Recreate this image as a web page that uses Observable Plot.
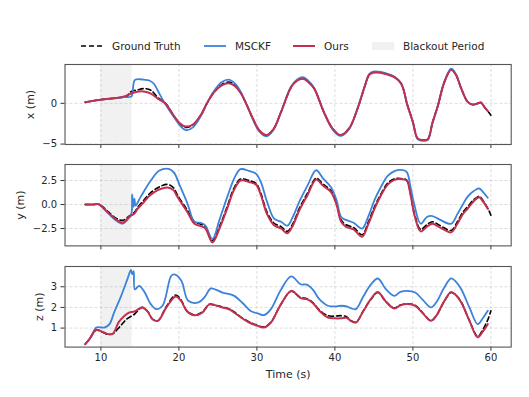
<!DOCTYPE html>
<html><head><meta charset="utf-8">
<script src="https://cdn.jsdelivr.net/npm/d3@7"></script>
<script src="https://cdn.jsdelivr.net/npm/@observablehq/plot@0.6"></script>
<style>
body{margin:0;background:#fff;font-family:"DejaVu Sans",sans-serif;}
#wrap{position:relative;width:529px;height:397px;overflow:hidden;background:#fff;}
.panel{position:absolute;left:0;}
</style></head><body><div id="wrap"></div>
<script>
// ---------- data ----------
const xTicks = [10, 20, 30, 40, 50, 60];
const blackout = [{start: 10, end: 14}];
const seriesNames = ["Ground Truth", "MSCKF", "Ours", "Blackout Period"];

// panel 1: x (m)
const xGT_t = [8,9,10,11,12,12.8,13.3,13.8,14.7,15.5,16.4,17.3,18.3,19.4,20.2,20.9,21.8,22.8,23.6,24.5,25.5,26.4,27.2,27.9,28.7,29.5,30.3,31.2,32.1,33.1,34.4,35.2,35.9,36.6,37.35,38.6,39.7,40.7,41.8,42.9,43.8,44.4,44.9,45.8,46.5,47.6,48.5,49.3,50,50.6,51.2,51.9,52.5,53.2,54,54.9,55.5,56.2,57,57.6,58.2,58.7,59.2,59.6,60];
const xGT_v = [0.12,0.3,0.45,0.55,0.65,0.72,0.8,1.4,1.65,1.8,1.6,0.7,0,-1.6,-2.55,-2.95,-2.65,-1.45,0,1.4,2.3,2.6,2.2,1.35,-0.2,-1.9,-3.3,-3.9,-3.2,-1.05,2.0,2.85,3.05,2.65,1.8,-1.1,-3.1,-3.9,-3.1,-0.65,2.0,3.5,3.8,3.8,3.65,3.25,2.4,-0.25,-2.3,-4.3,-4.5,-4.4,-2.4,-0.3,2.5,4.15,3.55,1.8,0.2,-0.15,-0.05,0.1,-0.5,-0.95,-1.46];
const xOurs_t = [8,9,10,11,12,13,13.8,14.5,15.5,16.4,17.3,18.3,19.4,20.2,20.9,21.8,22.8,23.6,24.5,25.5,26.4,27.2,27.9,28.7,29.5,30.3,31.2,32.1,33.1,34.4,35.2,35.9,36.6,37.35,38.6,39.7,40.7,41.8,42.9,43.8,44.4,44.9,45.8,46.5,47.6,48.5,49.3,50,50.6,51.2,51.9,52.5,53.2,54,54.9,55.5,56.2,57,57.6,58.2,58.7,59.2,59.6];
const xOurs_v = [0.12,0.3,0.45,0.55,0.65,0.85,1.18,1.4,1.45,1.2,0.57,-0.05,-1.6,-2.5,-2.85,-2.6,-1.45,0,1.35,2.2,2.45,2.1,1.3,-0.2,-1.9,-3.3,-3.9,-3.2,-1.06,2.0,2.8,3.0,2.6,1.8,-1.1,-3.1,-3.9,-3.1,-0.65,2.0,3.5,3.75,3.75,3.6,3.2,2.4,-0.25,-2.3,-4.3,-4.5,-4.4,-2.4,-0.3,2.5,4.1,3.5,1.8,0.2,-0.15,-0.05,0.1,-0.5,-0.95];
const xMS_t = [8,9,10,11,12,13,13.85,14.0,14.3,14.6,15.5,16.2,16.8,17.4,18.1,19.4,20.2,20.9,21.8,22.8,23.6,24.5,25.5,26.4,27.2,27.9,28.7,29.5,30.3,31.2,32.1,33.1,34.4,35.2,35.9,36.6,37.35,38.6,39.7,40.7,41.8,42.9,43.8,44.4,44.9,45.8,46.5,47.6,48.5,49.3,50,50.6,51.2,51.9,52.5,53.2,54,54.9,55.5,56.2,57,57.6,58.2,58.7,59.2,59.6];
const xMS_v = [0.12,0.3,0.45,0.55,0.65,0.75,0.8,1.0,2.8,2.95,2.9,2.8,2.4,1.38,0.16,-1.75,-2.8,-3.3,-2.95,-1.6,0,1.5,2.6,2.9,2.4,1.45,-0.2,-2.0,-3.45,-4.05,-3.3,-1.05,2.1,2.95,3.2,2.75,1.85,-1.15,-3.2,-4.0,-3.2,-0.65,2.05,3.6,3.9,3.85,3.7,3.3,2.45,-0.25,-2.35,-4.4,-4.6,-4.5,-2.45,-0.3,2.6,4.25,3.6,1.85,0.2,-0.15,-0.05,0.1,-0.5,-0.95];
const xYTicks = [-5, 0];

// panel 2: y (m)
const yOurs_t = [8,9,9.7,10.1,11,12,12.8,13.6,14.3,14.7,15.4,16.2,17.3,18.5,19.3,19.8,21.1,22,22.8,23.4,24.3,25.2,26.2,27,27.9,29,29.9,30.5,31.3,32.2,33.1,33.9,34.6,35.5,36.5,37.6,38.5,39.5,40.2,40.8,41.4,42.4,43.5,44.3,45.1,45.9,46.8,47.7,48.5,49.2,49.7,50.2,51,51.8,52.5,53.5,54.9,55.7,56.4,57,57.8,58.5,59,59.6];
const yOurs_v = [0,0,0.03,-0.2,-0.9,-1.6,-1.9,-1.3,-0.94,-0.45,0.15,0.9,1.5,1.78,1.5,0.8,-0.8,-2.0,-2.25,-2.5,-3.95,-2.5,-0.4,1.4,2.5,2.35,2.05,1.0,-1.0,-2.15,-2.5,-3.0,-2.2,-0.5,1.0,2.6,1.95,1.3,0.0,-1.8,-2.3,-2.6,-3.35,-2.0,-0.4,0.95,2.1,2.6,2.65,2.5,1.0,-1.1,-2.8,-2.3,-2.0,-2.4,-2.9,-2.0,-1.0,-0.45,0.35,0.75,0.3,-0.45];
const yGT_t = [8,9,9.7,10.1,11,12,12.8,13.6,14.3,14.7,15.4,16.2,17.3,18.5,19.3,19.8,21.1,22,22.8,23.4,24.3,25.2,26.2,27,27.9,29,29.9,30.5,31.3,32.2,33.1,33.9,34.6,35.5,36.5,37.6,38.5,39.5,40.2,40.8,41.4,42.4,43.5,44.3,45.1,45.9,46.8,47.7,48.5,49.2,49.7,50.2,51,51.8,52.5,53.5,54.9,55.7,56.4,57,57.8,58.5,59,59.6,60];
const yGT_v = [0,0,0.03,-0.15,-0.8,-1.45,-1.65,-1.2,-0.8,-0.3,0.35,1.1,1.75,2.1,1.75,1.0,-0.6,-1.8,-2.05,-2.3,-3.75,-2.3,-0.2,1.6,2.65,2.5,2.2,1.2,-0.8,-1.95,-2.3,-2.8,-2.0,-0.3,1.2,2.75,2.1,1.45,0.2,-1.6,-2.1,-2.4,-3.15,-1.8,-0.2,1.1,2.25,2.7,2.7,2.55,1.1,-0.95,-2.6,-2.1,-1.8,-2.2,-2.7,-1.8,-0.8,-0.25,0.5,0.85,0.4,-0.4,-1.1];
const yMS_t = [8,9,9.7,10.1,11,12,12.8,13.5,13.9,14.0,14.1,14.2,14.3,14.45,15.1,16.4,17.5,18.8,19.4,20.1,21.1,22,22.8,23.4,24.3,25.2,26.2,27.2,27.9,29,29.9,30.5,31.3,32.2,33.1,33.9,34.6,35.5,36.5,37.6,38.5,39.5,40.2,40.8,41.4,42.4,43.5,44.3,45.1,45.9,46.8,47.7,48.5,49.2,49.7,50.2,51,51.8,52.5,53.5,54.9,55.7,56.4,57,57.8,58.5,59,59.6];
const yMS_v = [0,0,0.03,-0.2,-0.95,-1.7,-2.0,-1.5,-1.0,1.05,0.2,-0.25,0.6,-0.1,0.8,2.5,3.55,3.7,3.3,2.0,0.1,-1.8,-1.9,-2.2,-3.6,-1.6,0.8,2.9,3.68,3.5,3.2,2.36,0.3,-1.46,-1.8,-2.2,-1.3,0.4,2.0,3.57,2.7,1.8,0.5,-1.3,-1.6,-1.9,-2.5,-1.2,0.5,1.83,3.0,3.5,3.6,3.4,1.8,-0.07,-2.0,-1.3,-1.2,-1.6,-2.0,-1.0,0.0,0.8,1.4,1.67,1.3,0.7];
const yYTicks = [-2.5, 0, 2.5];

// panel 3: z (m)
const zOurs_t = [8,8.5,9.4,10.1,10.8,11.5,12.3,13,13.6,14.3,15.3,16,16.6,17.3,18.4,19.6,20.3,21,22,23,23.9,24.7,25.6,26.5,27.1,28,29,30,30.9,31.8,33,34.4,35.6,36.4,37.2,38,39.1,40,40.8,41.5,42,42.7,43.6,44.6,45.5,46.5,47.6,48.4,49.3,50.3,51.3,52.3,53,54,54.9,55.5,56.2,57.3,58.3,59,59.6];
const zOurs_v = [0.22,0.45,0.92,0.84,0.72,0.72,1.3,1.59,1.75,1.8,2.0,1.8,1.43,1.35,2.0,2.53,2.3,1.83,1.62,1.75,2.15,2.1,2.0,1.9,1.75,1.5,1.27,1.12,1.03,1.27,2.1,2.8,2.45,2.4,2.2,1.84,1.51,1.47,1.47,1.5,1.35,1.27,1.8,2.4,2.75,2.3,1.95,2.1,2.16,2.08,1.7,1.35,1.6,2.3,2.75,2.6,2.24,1.3,0.55,0.85,1.19];
const zGT_t = [8,8.5,9.4,10.1,10.8,11.5,12.5,13.3,14.3,15.3,16,16.6,17.3,18.4,19.6,20.3,21,22,23,23.9,24.7,25.6,26.5,27.1,28,29,30,30.9,31.8,33,34.4,35.6,36.4,37.2,38,39.1,40,40.8,41.5,42,42.7,43.6,44.6,45.5,46.5,47.6,48.4,49.3,50.3,51.3,52.3,53,54,54.9,55.5,56.2,57.3,58.3,59,59.6,60];
const zGT_v = [0.22,0.45,0.9,0.82,0.7,0.72,1.1,1.43,1.67,2.0,1.8,1.45,1.35,2.05,2.6,2.35,1.85,1.63,1.78,2.15,2.1,2.02,1.92,1.78,1.52,1.3,1.14,1.05,1.28,2.1,2.78,2.48,2.42,2.22,1.88,1.6,1.58,1.6,1.55,1.38,1.28,1.8,2.38,2.72,2.3,1.97,2.12,2.18,2.1,1.72,1.36,1.6,2.28,2.72,2.6,2.26,1.32,0.6,0.95,1.4,1.84];
const zMS_t = [8,8.7,9.4,10.1,10.5,11.1,11.7,12.6,13.4,13.85,14.0,14.2,14.35,14.9,15.5,16.4,17.05,17.9,19,19.4,20.3,21.2,22.5,23.3,24.1,24.8,25.6,27.1,28.2,29.2,30.2,30.9,31.8,33,34.4,35.6,36.4,37.2,38,39.1,40,40.8,41.5,42,42.7,43.6,44.6,45.5,46.5,47.6,48.4,49.3,50.3,51.3,52.3,53,54,54.9,55.5,56.2,57.3,58.3,59,59.6];
const zMS_v = [0.22,0.55,1.03,1.03,1.03,1.19,1.76,2.56,3.37,3.82,3.6,3.75,2.87,3.04,2.8,2.16,1.92,2.08,3.52,3.6,3.3,2.32,2.24,2.5,2.92,2.85,2.72,2.56,2.2,1.83,1.7,1.63,1.92,2.8,3.5,3.12,3.1,2.85,2.4,2.08,2.05,2.08,2.05,1.97,1.92,2.5,3.1,3.4,2.9,2.56,2.75,2.8,2.72,2.35,2.0,2.25,2.95,3.4,3.25,2.88,1.95,1.19,1.5,1.84];
const zYTicks = [1, 2, 3];

// ---------- styling ----------
const COL = {gt: "#000000", ms: "#3b82dc", ours: "#c3304f", blackout: "#f1f1f1"};
const rows = (t, v) => t.map((d, i) => ({t: d, v: v[i]}));

function panel({gt, ms, ours, yDomain, yTicks, yFmt, ylabel, labelOffset, top, inner, bottom, showX}) {
  const mt = 4;
  const svg = Plot.plot({
    width: 529,
    height: mt + inner + bottom,
    marginLeft: 64.5, marginRight: 18.3, marginTop: mt, marginBottom: bottom,
    style: {fontFamily: "DejaVu Sans, sans-serif", fontSize: "10px", color: "#262626", background: "transparent", overflow: "visible"},
    x: {domain: [5.4, 62.6]},
    y: {domain: yDomain},
    marks: [
      Plot.rect(blackout, {x1: "start", x2: "end", fill: COL.blackout}),
      Plot.gridX(xTicks, {stroke: "#b0b0b0", strokeOpacity: 0.55, strokeDasharray: "3,2", strokeWidth: 0.8}),
      Plot.gridY(yTicks, {stroke: "#b0b0b0", strokeOpacity: 0.55, strokeDasharray: "3,2", strokeWidth: 0.8}),
      Plot.line(rows(gt[0], gt[1]), {x: "t", y: "v", stroke: COL.gt, strokeWidth: 1.6, strokeDasharray: "5,3", curve: "catmull-rom"}),
      Plot.line(rows(ms[0], ms[1]), {x: "t", y: "v", stroke: COL.ms, strokeWidth: 1.8, curve: "catmull-rom"}),
      Plot.line(rows(ours[0], ours[1]), {x: "t", y: "v", stroke: COL.ours, strokeWidth: 2.0, curve: "catmull-rom"}),
      Plot.axisX(xTicks, {tickSize: 4, tickPadding: 3, stroke: "#333", tickFormat: showX ? (d => String(d)) : (() => ""),
        label: showX ? "Time (s)" : null, labelAnchor: "center", labelArrow: "none"}),
      Plot.axisY(yTicks, {tickSize: 4, tickPadding: 4, stroke: "#333", tickFormat: yFmt,
        label: ylabel, labelAnchor: "center", labelArrow: "none", labelOffset: labelOffset}),
      Plot.frame({stroke: "#555", strokeWidth: 1.1})
    ]
  });
  svg.classList.add("panel");
  svg.style.top = (top - mt) + "px";
  svg.querySelectorAll("[aria-label='x-axis label'] text, [aria-label='y-axis label'] text").forEach(t => t.setAttribute("font-size", "11"));
  return svg;
}

const wrap = document.getElementById("wrap");
const fmtInt = d3.format("d"), fmt1 = d3.format(".1f");
wrap.appendChild(panel({gt: [xGT_t, xGT_v], ms: [xMS_t, xMS_v], ours: [xOurs_t, xOurs_v],
  yDomain: [-5.05, 4.76], yTicks: xYTicks, yFmt: fmtInt, ylabel: "x (m)", labelOffset: 39, top: 64, inner: 80, bottom: 10, showX: false}));
wrap.appendChild(panel({gt: [yGT_t, yGT_v], ms: [yMS_t, yMS_v], ours: [yOurs_t, yOurs_v],
  yDomain: [-4.31, 4.17], yTicks: yYTicks, yFmt: fmt1, ylabel: "y (m)", labelOffset: 49, top: 164.3, inner: 81.4, bottom: 10, showX: false}));
wrap.appendChild(panel({gt: [zGT_t, zGT_v], ms: [zMS_t, zMS_v], ours: [zOurs_t, zOurs_v],
  yDomain: [0.08, 3.98], yTicks: zYTicks, yFmt: fmtInt, ylabel: "z (m)", labelOffset: 30, top: 265.7, inner: 80.6, bottom: 34, showX: true}));

// ---------- legend ----------
const NS = "http://www.w3.org/2000/svg";
const leg = document.createElementNS(NS, "svg");
leg.setAttribute("width", 529); leg.setAttribute("height", 60);
leg.style.position = "absolute"; leg.style.left = "0"; leg.style.top = "0";
const legItems = [
  {name: seriesNames[0], x: 81, kind: "line", color: COL.gt, dash: "5,3", w: 1.6},
  {name: seriesNames[1], x: 204, kind: "line", color: COL.ms, w: 1.8},
  {name: seriesNames[2], x: 293, kind: "line", color: COL.ours, w: 2.0},
  {name: seriesNames[3], x: 372, kind: "rect", color: COL.blackout}
];
const LY = 46;
legItems.forEach(it => {
  let el;
  if (it.kind === "line") {
    el = document.createElementNS(NS, "line");
    el.setAttribute("x1", it.x); el.setAttribute("x2", it.x + 22);
    el.setAttribute("y1", LY); el.setAttribute("y2", LY);
    el.setAttribute("stroke", it.color); el.setAttribute("stroke-width", it.w);
    if (it.dash) el.setAttribute("stroke-dasharray", it.dash);
  } else {
    el = document.createElementNS(NS, "rect");
    el.setAttribute("x", it.x); el.setAttribute("y", LY - 4);
    el.setAttribute("width", 22); el.setAttribute("height", 8);
    el.setAttribute("fill", it.color);
  }
  leg.appendChild(el);
  const tx = document.createElementNS(NS, "text");
  tx.setAttribute("x", it.x + 31); tx.setAttribute("y", LY + 3.8);
  tx.setAttribute("font-family", "DejaVu Sans, sans-serif");
  tx.setAttribute("font-size", "10.5"); tx.setAttribute("fill", "#262626");
  tx.textContent = it.name;
  leg.appendChild(tx);
});
wrap.appendChild(leg);
</script></body></html>
